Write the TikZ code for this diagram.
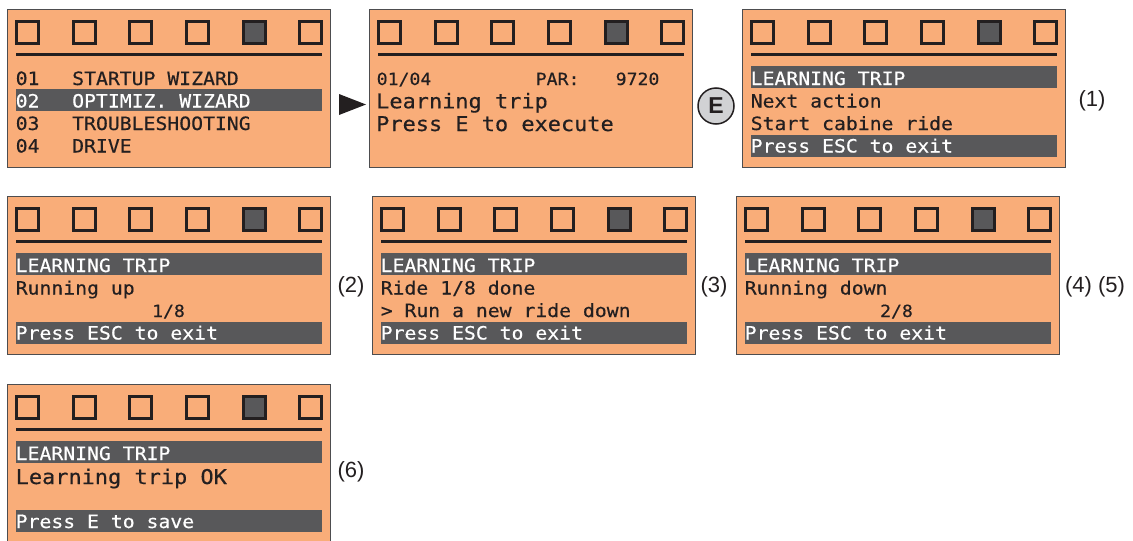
\documentclass[tikz,border=0pt]{standalone}
\usepackage{fontspec}
\setmainfont{Liberation Sans}
\newfontfamily\lcd[FakeStretch=1.08,FakeBold=0.4]{DejaVu Sans Mono}
\definecolor{lcdbg}{HTML}{F9AD79}
\definecolor{lcdink}{HTML}{231F20}
\definecolor{lcdbar}{HTML}{58585A}
\definecolor{lcdframe}{HTML}{4D4D4F}
\definecolor{btn}{HTML}{D1D2D4}
\tikzset{
 panelbox/.style={draw=lcdframe, line width=1pt, fill=lcdbg, minimum width=323pt, minimum height=158pt, inner sep=0pt, outer sep=0pt, anchor=north west},
 sq/.style={draw=lcdink, line width=3pt, fill=lcdbg},
 sqon/.style={draw=lcdink, line width=3pt, fill=lcdbar},
 sepline/.style={draw=lcdink, line width=2.6pt},
 bar/.style={fill=lcdbar},
 txt/.style={anchor=base west, inner sep=0pt, text=lcdink, font=\lcd\fontsize{18.3}{20}\selectfont},
 txtw/.style={txt, text=white},
 txtL/.style={txt, font=\lcd\fontsize{20.3}{22}\selectfont},
 txtS/.style={txt, font=\lcd\fontsize{16.8}{18}\selectfont},
 lbl/.style={inner sep=0pt, text=lcdink, font=\fontsize{22}{24}\selectfont},
}
\newcommand\lcdpanel[3]{%
 \node[panelbox] (#1) at (#2,#3) {};
 \foreach \i in {0,...,5}{%
   \pgfmathsetmacro\sx{#2+9.5+56.67*\i}
   \ifnum\i=4
     \draw[sqon] (\sx,#3+12) rectangle ++(22,22);
   \else
     \draw[sq] (\sx,#3+12) rectangle ++(22,22);
   \fi
 }
 \draw[sepline] (#2+9,#3+45.5) -- (#2+315,#3+45.5);
}
\begin{document}
\begin{tikzpicture}[x=1pt,y=-1pt]
\useasboundingbox (0,0) rectangle (1133,541);
% ---- row 1
\lcdpanel{p1}{7}{9}
\fill[bar] (16,89) rectangle (322,111);
\node[txt] (p1a) at (15.5,85) {01};
\node[txt] (p1b) at (72,85) {STARTUP WIZARD};
\node[txtw] (p1c) at (15.5,107.5) {02};
\node[txtw] (p1d) at (72,107.5) {OPTIMIZ. WIZARD};
\node[txt] (p1e) at (15.5,130) {03};
\node[txt] (p1f) at (72,130) {TROUBLESHOOTING};
\node[txt] (p1g) at (15.5,152.5) {04};
\node[txt] (p1h) at (72,152.5) {DRIVE};

\fill[lcdink] (339,94) -- (366,104.5) -- (339,115) -- cycle;

\lcdpanel{p2}{369}{9}
\node[txtS] (p2a) at (376.5,85) {01/04};
\node[txtS] (p2b) at (535.5,85) {PAR:};
\node[txtS] (p2c) at (615.5,85) {9720};
\node[txtL] (p2d) at (376,108.3) {Learning trip};
\node[txtL] (p2e) at (376,131) {Press E to execute};

\node[circle, draw=lcdink, line width=1.5pt, fill=btn, minimum size=36pt, inner sep=0pt, text=lcdink, font=\bfseries\fontsize{23}{24}\selectfont] (ebtn) at (716,106) {E};

\lcdpanel{p3}{742}{9}
\fill[bar] (751,66) rectangle (1057,88);
\fill[bar] (751,134.5) rectangle (1057,156.5);
\node[txtw] (p3a) at (750.5,85) {LEARNING TRIP};
\node[txt] (p3b) at (750.5,107.5) {Next action};
\node[txt] (p3c) at (750.5,130) {Start cabine ride};
\node[txtw] (p3d) at (750.5,152.5) {Press ESC to exit};
\node[lbl] (l1) at (1092,100.5) {(1)};

% ---- row 2
\lcdpanel{p4}{7}{196}
\fill[bar] (16,253) rectangle (322,275);
\fill[bar] (16,321.5) rectangle (322,343.5);
\node[txtw] (p4a) at (15.5,272) {LEARNING TRIP};
\node[txt] (p4b) at (15.5,294.5) {Running up};
\node[txtS, anchor=base] (p4c) at (168.5,317) {1/8};
\node[txtw] (p4d) at (15.5,339.5) {Press ESC to exit};
\node[lbl] (l2) at (351,287) {(2)};

\lcdpanel{p5}{372}{196}
\fill[bar] (381,253) rectangle (687,275);
\fill[bar] (381,321.5) rectangle (687,343.5);
\node[txtw] (p5a) at (380.5,272) {LEARNING TRIP};
\node[txt] (p5b) at (380.5,294.5) {Ride 1/8 done};
\node[txt] (p5c) at (380.5,317) {> Run a new ride down};
\node[txtw] (p5d) at (380.5,339.5) {Press ESC to exit};
\node[lbl] (l3) at (714,287) {(3)};

\lcdpanel{p6}{736}{196}
\fill[bar] (745,253) rectangle (1051,275);
\fill[bar] (745,321.5) rectangle (1051,343.5);
\node[txtw] (p6a) at (744.5,272) {LEARNING TRIP};
\node[txt] (p6b) at (744.5,294.5) {Running down};
\node[txtS, anchor=base] (p6c) at (896.5,317) {2/8};
\node[txtw] (p6d) at (744.5,339.5) {Press ESC to exit};
\node[lbl] (l45) at (1095,287) {(4) (5)};

% ---- row 3
\lcdpanel{p7}{7}{384}
\fill[bar] (16,441) rectangle (322,463);
\fill[bar] (16,509.5) rectangle (322,531.5);
\node[txtw] (p7a) at (15.5,460) {LEARNING TRIP};
\node[txtL] (p7b) at (15.5,484) {Learning trip OK};
\node[txtw] (p7c) at (15.5,528) {Press E to save};
\node[lbl] (l6) at (351,472) {(6)};
\end{tikzpicture}
\end{document}
